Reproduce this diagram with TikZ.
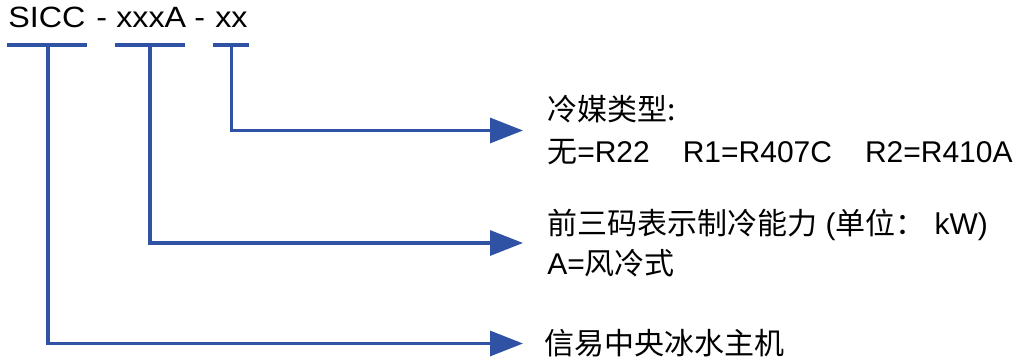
\documentclass[tikz,border=0pt]{standalone}
\usepackage{fontspec}
\setmainfont{Liberation Sans}
\newfontfamily\cjk{Noto Sans CJK SC}
\usetikzlibrary{arrows.meta}
\definecolor{lineblue}{RGB}{47,82,165}
\tikzset{
  conn/.style={draw=lineblue, line width=2.4pt, line join=miter},
  arr/.style={conn, -{Triangle[length=24.75pt,width=18.75pt]}},
  title/.style={anchor=base west, inner sep=0pt, font=\fontsize{22}{26}\selectfont},
  desc/.style={anchor=base west, inner sep=0pt, font=\fontsize{22.5}{27}\selectfont},
}
\newcommand{\wide}[1]{\scalebox{1.1}[1]{#1}}
\begin{document}
\begin{tikzpicture}[x=0.75pt,y=-0.75pt]
\useasboundingbox (0,0) rectangle (1020,360);
% title pieces
\node[title] (p1) at (8,28) {\wide{SICC}};
\node[title] (d1) at (96,28) {\wide{-}};
\node[title] (p2) at (116,28) {\wide{xxxA}};
\node[title] (d2) at (194,28) {\wide{-}};
\node[title] (p3) at (215,28) {\wide{xx}};
% bars
\coordinate (b1l) at (7,45);   \coordinate (b1r) at (87,45);  \coordinate (b1m) at (48,45);
\coordinate (b2l) at (115,45); \coordinate (b2r) at (185,45); \coordinate (b2m) at (150,45);
\coordinate (b3l) at (213,45); \coordinate (b3r) at (249,45); \coordinate (b3m) at (231.5,45);
\draw[conn] (b1l) -- (b1r);
\draw[conn] (b2l) -- (b2r);
\draw[conn] (b3l) -- (b3r);
% arrow tips
\coordinate (t3) at (523,130.5);
\coordinate (t2) at (523,243);
\coordinate (t1) at (523,343.5);
\draw[arr] (b3m) |- (t3);
\draw[arr] (b2m) |- (t2);
\draw[arr] (b1m) |- (t1);
% descriptions
\node[desc] (r1a) at (547,120) {{\cjk 冷媒类型:}};
\node[desc] (r1b) at (547,162) {{\cjk 无}=R22\hspace{1.1em}R1=R407C\hspace{1.1em}R2=R410A};
\node[desc] (r2a) at (547,234) {{\cjk 前三码表示制冷能力} ({\cjk 单位：}\hspace{0.3em}kW)};
\node[desc] (r2b) at (547,274) {A={\cjk 风冷式}};
\node[desc] (r3) at (544,354) {{\cjk 信易中央冰水主机}};
\end{tikzpicture}
\end{document}
